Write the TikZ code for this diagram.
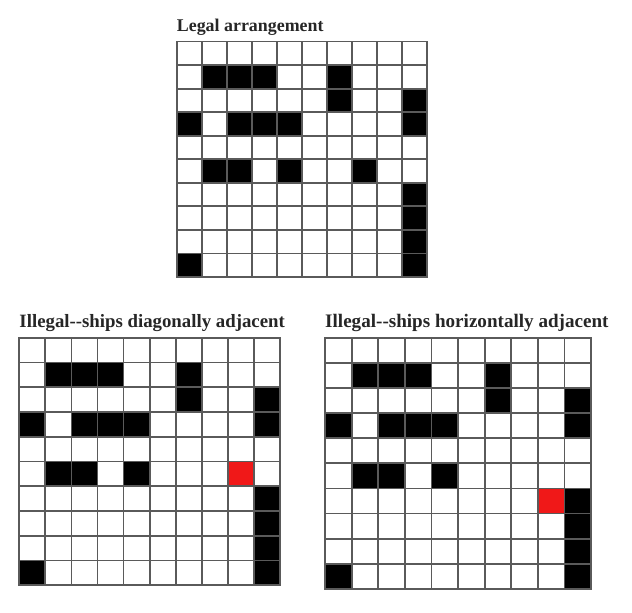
\documentclass[tikz,border=0pt]{standalone}
\usepackage{fontspec}
\setmainfont{Liberation Serif}
\definecolor{gridline}{HTML}{5A5A5A}
\definecolor{hitred}{HTML}{F01818}
\tikzset{
  cellline/.style={draw=gridline,line width=1.8pt,line cap=rect},
  shipcell/.style={fill=black},
  badcell/.style={fill=hitred},
  titletext/.style={anchor=base west,inner sep=0pt,text=black!85}
}
\newcommand\gridlines{%
  \foreach \i in {0,...,10}{
    \draw[cellline] (\i,0) -- (\i,10);
    \draw[cellline] (0,\i) -- (10,\i);
  }}
\newcommand\basefleet{1/1,2/1,3/1,6/1,6/2,9/2,0/3,2/3,3/3,4/3,9/3,1/5,2/5,4/5,9/6,9/7,9/8,0/9,9/9}
\begin{document}
\begin{tikzpicture}[x=1pt,y=-1pt]
\useasboundingbox[fill=white] (0,0) rectangle (632,613);
\node[titletext,font=\bfseries\fontsize{17.9}{20}\selectfont] (t1) at (176.7,31.7) {Legal arrangement};
\node[titletext,font=\bfseries\fontsize{18.8}{20}\selectfont] (t2) at (19.3,327) {Illegal-{}-ships diagonally adjacent};
\node[titletext,font=\bfseries\fontsize{19.1}{20}\selectfont] (t3) at (325,327) {Illegal-{}-ships horizontally adjacent};
% grid 1
\begin{scope}[shift={(176.7,41.5)},x=25pt,y=-23.55pt]
  \foreach \c/\r in \basefleet {\fill[shipcell] (\c,\r) rectangle ++(1,1);}
  \fill[shipcell] (7,5) rectangle ++(1,1);
  \gridlines
\end{scope}
% grid 2
\begin{scope}[shift={(19.3,337.8)},x=26.07pt,y=-24.75pt]
  \foreach \c/\r in \basefleet {\fill[shipcell] (\c,\r) rectangle ++(1,1);}
  \fill[badcell] (8,5) rectangle ++(1,1);
  \gridlines
\end{scope}
% grid 3
\begin{scope}[shift={(325,337.8)},x=26.6pt,y=-25.1pt]
  \foreach \c/\r in \basefleet {\fill[shipcell] (\c,\r) rectangle ++(1,1);}
  \fill[badcell] (8,6) rectangle ++(1,1);
  \gridlines
\end{scope}
\end{tikzpicture}
\end{document}
